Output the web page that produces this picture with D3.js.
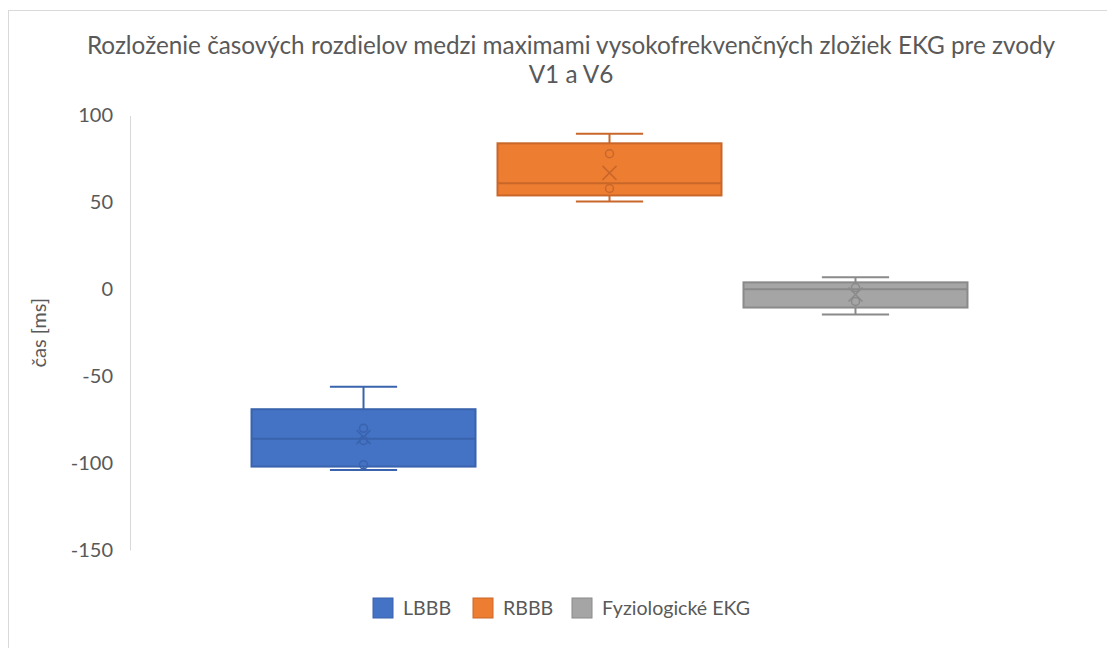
<!DOCTYPE html>
<html>
<head>
<meta charset="utf-8">
<script src="https://cdn.jsdelivr.net/npm/d3@7"></script>
<style>
  body { margin: 0; background: #fff; }
  svg text { font-family: Lato, "Open Sans", sans-serif; fill: #595959; }
</style>
</head>
<body>
<svg id="chart" width="1107" height="648"></svg>
<script>
// series and their box-plot statistics (ms)
const seriesNames = ["LBBB", "RBBB", "Fyziologické EKG"];
const mins     = [-104, 50.5, -14.5];
const q1s      = [-102, 54, -10.5];
const medians  = [-86, 61, 0];
const q3s      = [-69, 84, 4];
const maxs     = [-56, 89.5, 7];
const means    = [-85, 67, -3];
const innerPts = [[-80, -87, -101], [78, 58], [1, -7]];
const yTicks   = [100, 50, 0, -50, -100, -150];

const fills   = ["#4472C4", "#ED7D31", "#A5A5A5"];
const strokes = ["#3A63AD", "#C9672A", "#8A8A8A"];

const svg = d3.select("#chart");

// chart frame
svg.append("rect")
  .attr("x", 8.5).attr("y", 10.5)
  .attr("width", 1125).attr("height", 660)
  .attr("fill", "none").attr("stroke", "#d9d9d9");

const plot = { left: 130, right: 1089, top: 115.5, bottom: 550 };

const y = d3.scaleLinear().domain([-150, 100]).range([plot.bottom, plot.top]);
const x = d3.scaleBand()
  .domain(seriesNames)
  .range([plot.left, plot.right])
  .paddingInner(0.0894)
  .paddingOuter(0.494);

// title
const title = svg.append("text")
  .attr("text-anchor", "middle")
  .style("font-size", "24.3px");
title.append("tspan").attr("x", 571).attr("y", 54)
  .text("Rozloženie časových rozdielov medzi maximami vysokofrekvenčných zložiek EKG pre zvody");
title.append("tspan").attr("x", 571).attr("y", 83).text("V1 a V6");

// y axis
const yAxis = svg.append("g")
  .attr("transform", `translate(${plot.left},0)`)
  .call(d3.axisLeft(y).tickValues(yTicks).tickSize(0).tickPadding(17).tickFormat(d => String(d)));
yAxis.select(".domain").attr("stroke", "#d9d9d9");
yAxis.selectAll("text")
  .style("font-size", "20px")
  .style("font-family", "Lato, sans-serif")
  .style("fill", "#595959");

svg.append("text")
  .attr("transform", `translate(46,${(plot.top + plot.bottom) / 2}) rotate(-90)`)
  .attr("text-anchor", "middle")
  .style("font-size", "20px")
  .text("čas [ms]");

// boxes
const bw = x.bandwidth();
const capW = bw * 0.3;
seriesNames.forEach((name, i) => {
  const g = svg.append("g");
  const cx = x(name) + bw / 2;
  const st = strokes[i];

  // whiskers
  g.append("line").attr("x1", cx).attr("x2", cx)
    .attr("y1", y(maxs[i])).attr("y2", y(q3s[i])).attr("stroke", st).attr("stroke-width", 2);
  g.append("line").attr("x1", cx).attr("x2", cx)
    .attr("y1", y(q1s[i])).attr("y2", y(mins[i])).attr("stroke", st).attr("stroke-width", 2);
  [maxs[i], mins[i]].forEach(v => {
    g.append("line").attr("x1", cx - capW / 2).attr("x2", cx + capW / 2)
      .attr("y1", y(v)).attr("y2", y(v)).attr("stroke", st).attr("stroke-width", 2);
  });

  // box
  g.append("rect")
    .attr("x", x(name)).attr("width", bw)
    .attr("y", y(q3s[i])).attr("height", y(q1s[i]) - y(q3s[i]))
    .attr("fill", fills[i]).attr("stroke", st).attr("stroke-width", 2);
  g.append("line")
    .attr("x1", x(name)).attr("x2", x(name) + bw)
    .attr("y1", y(medians[i])).attr("y2", y(medians[i]))
    .attr("stroke", st).attr("stroke-width", 2);

  // inner points
  innerPts[i].forEach(v => {
    g.append("circle").attr("cx", cx).attr("cy", y(v)).attr("r", 4)
      .attr("fill", "none").attr("stroke", st).attr("stroke-width", 1.5);
  });

  // mean marker
  const my = y(means[i]), s = 7;
  g.append("path")
    .attr("d", `M${cx - s},${my - s}L${cx + s},${my + s}M${cx - s},${my + s}L${cx + s},${my - s}`)
    .attr("stroke", st).attr("stroke-width", 1.5);
});

// legend
const legendX = [373, 473, 572];
const legend = svg.append("g");
seriesNames.forEach((name, i) => {
  legend.append("rect")
    .attr("x", legendX[i]).attr("y", 598)
    .attr("width", 20).attr("height", 20)
    .attr("fill", fills[i]).attr("stroke", strokes[i]).attr("stroke-width", 1);
  legend.append("text")
    .attr("x", legendX[i] + 30).attr("y", 615)
    .style("font-size", "19.6px")
    .text(name);
});
</script>
</body>
</html>
